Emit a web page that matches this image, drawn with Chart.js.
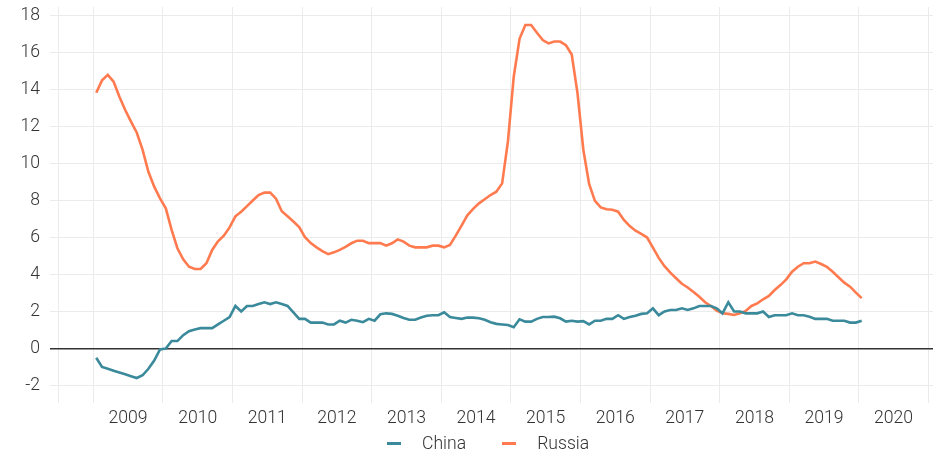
<!DOCTYPE html>
<html>
<head>
<meta charset="utf-8">
<script src="https://cdn.jsdelivr.net/npm/chart.js@4"></script>
<style>
  html, body { margin: 0; padding: 0; background: #fff; }
  #wrap { position: relative; width: 939px; height: 455px; }
  #legend { position: absolute; top: 432px; left: 387px; height: 22px; display: flex; align-items: center;
    font-family: Roboto, sans-serif; font-weight: 300; font-size: 17.6px; color: #333; }
  #legend .item { display: flex; align-items: center; margin-right: 36px; }
  #legend .mark { width: 14px; height: 3px; margin-right: 21px; }
</style>
</head>
<body>
<div id="wrap">
  <canvas id="myChart" width="939" height="455"></canvas>
  <div id="legend"></div>
</div>
<script>
'use strict';

// monthly values, Jan 2009 .. Jan 2020
var china = [
  -0.5, -1.0, -1.1, -1.2, -1.3, -1.4, -1.5, -1.6, -1.45, -1.1, -0.65, -0.05,
  0.0, 0.4, 0.4, 0.72, 0.93, 1.03, 1.1, 1.1, 1.1, 1.3, 1.5, 1.7,
  2.3, 2.0, 2.3, 2.3, 2.4, 2.5, 2.4, 2.5, 2.4, 2.3, 1.95, 1.6,
  1.6, 1.4, 1.4, 1.4, 1.3, 1.3, 1.5, 1.4, 1.55, 1.5, 1.42, 1.6,
  1.5, 1.85, 1.9, 1.87, 1.77, 1.65, 1.55, 1.55, 1.67, 1.77, 1.8, 1.8,
  1.96, 1.7, 1.65, 1.6, 1.67, 1.67, 1.63, 1.55, 1.42, 1.33, 1.3, 1.27,
  1.15, 1.58, 1.45, 1.45, 1.6, 1.7, 1.7, 1.72, 1.63, 1.45, 1.5, 1.45,
  1.48, 1.3, 1.5, 1.5, 1.6, 1.6, 1.8, 1.6, 1.7, 1.77, 1.87, 1.9,
  2.17, 1.8, 2.0, 2.08, 2.08, 2.17, 2.08, 2.17, 2.3, 2.3, 2.3, 2.17,
  1.9, 2.5, 2.0, 2.0, 1.9, 1.9, 1.9, 2.0, 1.7, 1.8, 1.8, 1.8,
  1.9, 1.8, 1.8, 1.72, 1.6, 1.6, 1.6, 1.5, 1.5, 1.5, 1.4, 1.4,
  1.5
];
var russia = [
  13.83, 14.5, 14.8, 14.43, 13.62, 12.9, 12.27, 11.67, 10.74, 9.56, 8.75, 8.12,
  7.58, 6.41, 5.42, 4.82, 4.42, 4.3, 4.3, 4.61, 5.33, 5.8, 6.1, 6.55,
  7.15, 7.4, 7.7, 8.0, 8.3, 8.43, 8.43, 8.1, 7.42, 7.15, 6.87, 6.57,
  6.02, 5.7, 5.47, 5.27, 5.1, 5.2, 5.33, 5.5, 5.69, 5.83, 5.83, 5.7,
  5.7, 5.7, 5.56, 5.69, 5.9, 5.78, 5.56, 5.47, 5.47, 5.47, 5.56, 5.56,
  5.47, 5.6, 6.1, 6.65, 7.2, 7.55, 7.85, 8.07, 8.3, 8.48, 8.93, 11.2,
  14.7, 16.75, 17.5, 17.5, 17.08, 16.68, 16.5, 16.6, 16.6, 16.4, 15.9, 13.8,
  10.75, 8.9, 7.98, 7.63, 7.53, 7.5, 7.4, 6.95, 6.62, 6.37, 6.2, 6.0,
  5.45, 4.9, 4.45, 4.1, 3.8, 3.5, 3.3, 3.05, 2.8, 2.5, 2.3, 2.05,
  1.9, 1.87, 1.81, 1.9, 2.03, 2.3, 2.44, 2.66, 2.84, 3.16, 3.43, 3.74,
  4.15, 4.42, 4.61, 4.61, 4.7, 4.57, 4.42, 4.15, 3.85, 3.56, 3.34, 3.02,
  2.72
];
var yearLabels = ['2009', '2010', '2011', '2012', '2013', '2014', '2015', '2016', '2017', '2018', '2019', '2020'];
var yTicks = [-2, 0, 2, 4, 6, 8, 10, 12, 14, 16, 18];

var seriesColors = { China: '#3a8a9b', Russia: '#ff7b4f' };
var fontSpec = { family: 'Roboto', size: 17.6, weight: 300 };

// x runs in months from 1 Jan 2009, each value sits mid-month
function toPoints(arr) {
  return arr.map(function (v, i) { return { x: i + 0.5, y: v }; });
}

(function () {
  var ctx = document.getElementById('myChart');
  var datasets = [
    { label: 'China', data: toPoints(china) },
    { label: 'Russia', data: toPoints(russia) }
  ].map(function (d) {
    d.borderColor = seriesColors[d.label];
    d.backgroundColor = seriesColors[d.label];
    d.borderWidth = 2.6;
    d.pointRadius = 0;
    d.tension = 0;
    return d;
  });

  new Chart(ctx, {
    type: 'line',
    data: { datasets: datasets },
    options: {
      responsive: false,
      animation: false,
      layout: { padding: { top: 7, right: 6, left: 0, bottom: 0 } },
      plugins: { legend: { display: false }, tooltip: { enabled: false } },
      scales: {
        x: {
          type: 'linear',
          min: -7.47,
          max: 144.8,
          border: { display: false },
          afterBuildTicks: function (scale) {
            var t = [];
            for (var v = -6; v <= 144; v += 6) t.push({ value: v });
            scale.ticks = t;
          },
          afterFit: function (scale) {
            scale.height = 52;
            scale.paddingLeft = 0;
            scale.paddingRight = 0;
          },
          grid: {
            drawTicks: false,
            lineWidth: 1,
            color: function (c) {
              var v = c.tick ? c.tick.value : 0;
              return (v % 12 === 0 || v === -6) ? '#ebebeb' : 'rgba(0,0,0,0)';
            }
          },
          ticks: {
            autoSkip: false,
            maxRotation: 0,
            padding: 5,
            color: '#333',
            font: fontSpec,
            callback: function (v) {
              if (v < 6 || (v - 6) % 12 !== 0) return '';
              return yearLabels[(v - 6) / 12];
            }
          }
        },
        y: {
          min: -2.95,
          max: 18.47,
          border: { display: false },
          afterBuildTicks: function (scale) {
            scale.ticks = yTicks.map(function (v) { return { value: v }; });
          },
          afterFit: function (scale) {
            scale.width = 50;
            scale.paddingTop = 0;
            scale.paddingBottom = 0;
          },
          grid: {
            drawTicks: false,
            lineWidth: function (c) { return c.tick && c.tick.value === 0 ? 1.4 : 1; },
            color: function (c) { return c.tick && c.tick.value === 0 ? '#333' : '#ebebeb'; }
          },
          ticks: { padding: 10, color: '#333', font: fontSpec }
        }
      }
    }
  });

  // legend below the plot
  var legend = document.getElementById('legend');
  datasets.forEach(function (d) {
    var item = document.createElement('div');
    item.className = 'item';
    var mark = document.createElement('span');
    mark.className = 'mark';
    mark.style.background = d.borderColor;
    var txt = document.createElement('span');
    txt.textContent = d.label;
    item.appendChild(mark);
    item.appendChild(txt);
    legend.appendChild(item);
  });
})();
</script>
</body>
</html>
